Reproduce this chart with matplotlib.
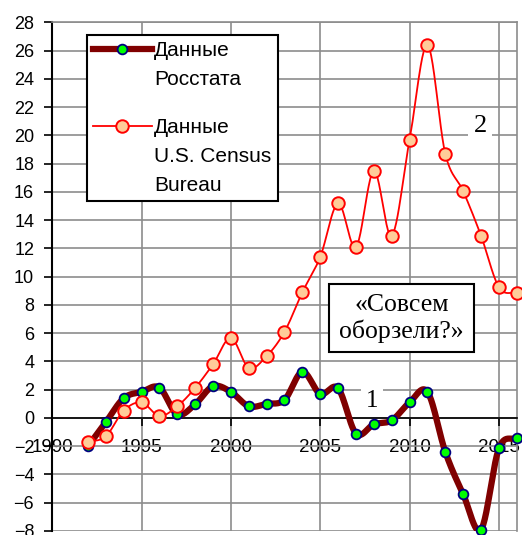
import numpy as np
import matplotlib
matplotlib.use('Agg')
import matplotlib.pyplot as plt
from matplotlib.ticker import MultipleLocator

years = list(range(1992, 2017))

# Данные Росстата
rosstat = [-2.0, -0.3, 1.4, 1.85, 2.15, 0.25, 0.97, 2.25, 1.85, 0.83, 1.0, 1.28,
           3.27, 1.7, 2.1, -1.1, -0.45, -0.17, 1.1, 1.85, -2.4, -5.4, -7.9, -2.15, -1.4]

# Данные U.S. Census Bureau
census = [-1.7, -1.3, 0.52, 1.1, 0.14, 0.83, 2.13, 3.8, 5.66, 3.55, 4.38, 6.1,
          8.9, 11.4, 15.2, 12.1, 17.5, 12.9, 19.7, 26.4, 18.7, 16.06, 12.9, 9.26, 8.83]

x_ticks = [1990, 1995, 2000, 2005, 2010, 2015]
labels = ['Данные\nРосстата', 'Данные\nU.S. Census\nBureau']


def smooth(x, y, n=24):
    # Catmull-Rom curve through the points, like Excel "smoothed line"
    x = np.asarray(x, float)
    y = np.asarray(y, float)
    px = np.concatenate([[2 * x[0] - x[1]], x, [2 * x[-1] - x[-2]]])
    py = np.concatenate([[2 * y[0] - y[1]], y, [2 * y[-1] - y[-2]]])
    xs, ys = [], []
    t = np.linspace(0, 1, n, endpoint=False)
    for i in range(1, len(px) - 2):
        for p, out in ((px, xs), (py, ys)):
            p0, p1, p2, p3 = p[i - 1], p[i], p[i + 1], p[i + 2]
            out.extend(0.5 * (2 * p1 + (-p0 + p2) * t + (2 * p0 - 5 * p1 + 4 * p2 - p3) * t ** 2
                              + (-p0 + 3 * p1 - 3 * p2 + p3) * t ** 3))
    xs.append(x[-1])
    ys.append(y[-1])
    return np.array(xs), np.array(ys)


fig = plt.figure(figsize=(5.22, 5.35), dpi=100)
ax = fig.add_axes([0.1, 0.0075, 0.89, 0.9505])

ax.set_xlim(1990, 2016)
ax.set_ylim(-8, 28)
ax.xaxis.set_major_locator(MultipleLocator(5))
ax.yaxis.set_major_locator(MultipleLocator(2))
ax.set_xticks(x_ticks)
ax.grid(True, color='#8c8c8c', lw=1.2)
ax.set_axisbelow(True)

for s in ('top', 'right'):
    ax.spines[s].set_color('#8c8c8c')
    ax.spines[s].set_linewidth(1.2)
ax.spines['bottom'].set_position(('data', 0))
ax.spines['bottom'].set_linewidth(1.2)
ax.spines['left'].set_linewidth(1.5)

ax.tick_params(axis='y', direction='out', length=6, width=1.2, pad=7,
               labelsize=13, labelfontfamily='Liberation Sans')
ax.tick_params(axis='x', direction='out', length=6, width=1.2, pad=9,
               labelsize=13.5, labelfontfamily='Liberation Sans')

sx, sy = smooth(years, rosstat)
ax.plot(sx, sy, color='#800000', lw=4.5, solid_capstyle='round', zorder=3)
r_pts, = ax.plot(years, rosstat, ls='none', marker='o', ms=7, mfc='#00ff00', mec='#000080',
                 mew=1.3, zorder=4, clip_on=False)

cx, cy = smooth(years, census)
ax.plot(cx, cy, color='#ff0000', lw=1.3, zorder=5)
c_pts, = ax.plot(years, census, ls='none', marker='o', ms=9, mfc='#ffcc99', mec='#ff0000',
                 mew=1.4, zorder=6, clip_on=False)

h1 = plt.Line2D([], [], color='#800000', lw=4.5, marker='o', ms=7, mfc='#00ff00',
                mec='#000080', mew=1.3)
h2 = plt.Line2D([], [], color='#ff0000', lw=1.3, marker='o', ms=9, mfc='#ffcc99',
                mec='#ff0000', mew=1.4)
leg = ax.legend([h1, h2], labels, loc='upper left', bbox_to_anchor=(0.075, 0.975),
                borderaxespad=0, fancybox=False, framealpha=1, edgecolor='black',
                prop={'family': 'Liberation Sans', 'size': 15}, handlelength=2.8,
                handletextpad=0.12, labelspacing=1.4, borderpad=0.3, numpoints=1)
leg.get_frame().set_linewidth(1.5)
leg.set_zorder(10)
for t in leg.get_texts():
    t.set_linespacing(1.65)
# put each sample line next to the first line of its label
for hp in leg._legend_handle_box.get_children()[0].get_children():
    hp.align = 'top'

serif = 'Liberation Serif'
ax.text(2009.55, 7.05, '«Совсем\nоборзели?»', fontsize=18.5, family=serif, ha='center',
        va='center', linespacing=1.15, zorder=11,
        bbox=dict(boxstyle='square,pad=0.38', fc='white', ec='black', lw=1.5))
ax.text(2013.95, 20.7, '2', fontsize=19, family=serif, ha='center', va='center', zorder=2,
        bbox=dict(boxstyle='square,pad=0.2', fc='white', ec='none'))
ax.text(2007.9, 1.2, '1', fontsize=18, family=serif, ha='center', va='center', zorder=2,
        bbox=dict(boxstyle='square,pad=0.2', fc='white', ec='none'))

fig.savefig('out.png', dpi=100)
